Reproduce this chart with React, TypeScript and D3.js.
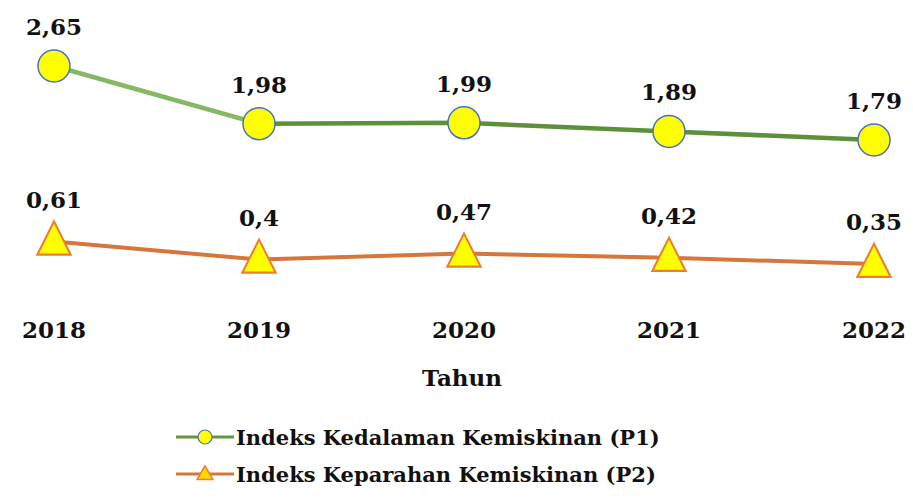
import React, { useRef, useEffect } from 'react';
import * as d3 from 'd3';

const years = ['2018', '2019', '2020', '2021', '2022'];
const p1Values = [2.65, 1.98, 1.99, 1.89, 1.79];
const p2Values = [0.61, 0.4, 0.47, 0.42, 0.35];
const p1Name = 'Indeks Kedalaman Kemiskinan (P1)';
const p2Name = 'Indeks Keparahan Kemiskinan (P2)';
const axisTitle = 'Tahun';

const fmt = (v: number) => String(v).replace('.', ',');

const W = 913;
const H = 498;
const FONT = '"DejaVu Serif", Georgia, serif';

const App = () => {
  const svgRef = useRef<SVGSVGElement | null>(null);

  useEffect(() => {
    if (!svgRef.current) return;
    const svg = d3.select(svgRef.current);
    svg.selectAll('*').remove();

    const x = d3.scalePoint<string>().domain(years).range([54, 874]);
    const y = d3.scaleLinear().domain([0, 2.65]).range([294, 66]);

    const tri = d3.symbol().type(d3.symbolTriangle);

    // lines
    const line = d3.line<number>()
      .x((d, i) => x(years[i]) as number)
      .y(d => y(d));

    // first segment of P1 is drawn lighter, as in the original
    svg.append('path')
      .attr('d', line(p1Values.slice(0, 2)))
      .attr('fill', 'none')
      .attr('stroke', '#85b863')
      .attr('stroke-width', 4.5);

    svg.append('path')
      .attr('d', d3.line<number>()
        .x((d, i) => x(years[i + 1]) as number)
        .y(d => y(d))(p1Values.slice(1)))
      .attr('fill', 'none')
      .attr('stroke', '#5e8f3b')
      .attr('stroke-width', 4.5);

    svg.append('path')
      .attr('d', line(p2Values))
      .attr('fill', 'none')
      .attr('stroke', '#d5773a')
      .attr('stroke-width', 4);

    // markers P1
    svg.selectAll('.p1')
      .data(p1Values)
      .enter()
      .append('circle')
      .attr('cx', (d, i) => x(years[i]) as number)
      .attr('cy', d => y(d))
      .attr('r', 16)
      .attr('fill', '#ffff00')
      .attr('stroke', '#4472c4')
      .attr('stroke-width', 1.5);

    // markers P2
    svg.selectAll('.p2')
      .data(p2Values)
      .enter()
      .append('path')
      .attr('d', tri.size(480)())
      .attr('transform', (d, i) => `translate(${x(years[i])},${y(d) + 2}) scale(1,1.15)`)
      .attr('fill', '#ffff00')
      .attr('stroke', '#ed7d31')
      .attr('stroke-width', 2);

    // value labels
    const labelStyle = (sel: any, size = 23) => sel
      .attr('text-anchor', 'middle')
      .attr('font-family', FONT)
      .attr('font-weight', 'bold')
      .attr('font-size', size)
      .attr('fill', '#111');

    svg.selectAll('.l1')
      .data(p1Values)
      .enter()
      .append('text')
      .attr('x', (d, i) => x(years[i]) as number)
      .attr('y', d => y(d) - 31)
      .call(labelStyle)
      .text(d => fmt(d));

    svg.selectAll('.l2')
      .data(p2Values)
      .enter()
      .append('text')
      .attr('x', (d, i) => x(years[i]) as number)
      .attr('y', d => y(d) - 34)
      .call(labelStyle)
      .text(d => fmt(d));

    // x axis labels
    svg.selectAll('.yr')
      .data(years)
      .enter()
      .append('text')
      .attr('x', d => x(d) as number)
      .attr('y', 338)
      .call(labelStyle)
      .text(d => d);

    svg.append('text')
      .attr('x', 462)
      .attr('y', 386)
      .call(labelStyle)
      .text(axisTitle);

    // legend
    const legend = [
      { name: p1Name, color: '#64963f', kind: 'circle' },
      { name: p2Name, color: '#d5773a', kind: 'tri' }
    ];
    legend.forEach((item, i) => {
      const g = svg.append('g').attr('transform', `translate(0,${437 + i * 37})`);
      g.append('line')
        .attr('x1', 176).attr('x2', 234)
        .attr('y1', 0).attr('y2', 0)
        .attr('stroke', item.color)
        .attr('stroke-width', 3);
      if (item.kind === 'circle') {
        g.append('circle')
          .attr('cx', 205).attr('cy', 0).attr('r', 7)
          .attr('fill', '#ffff00')
          .attr('stroke', '#4472c4')
          .attr('stroke-width', 1.2);
      } else {
        g.append('path')
          .attr('d', tri.size(110)())
          .attr('transform', 'translate(205,1)')
          .attr('fill', '#ffd700')
          .attr('stroke', '#ed7d31')
          .attr('stroke-width', 1.5);
      }
      g.append('text')
        .attr('x', 236)
        .attr('y', 8)
        .attr('font-family', FONT)
        .attr('font-weight', 'bold')
        .attr('font-size', 21)
        .attr('fill', '#111')
        .text(item.name);
    });
  }, []);

  return (
    <svg
      ref={svgRef}
      width={W}
      height={H}
      style={{ position: 'absolute', left: 0, top: 0, background: '#fff' }}
    />
  );
};

export default App;
